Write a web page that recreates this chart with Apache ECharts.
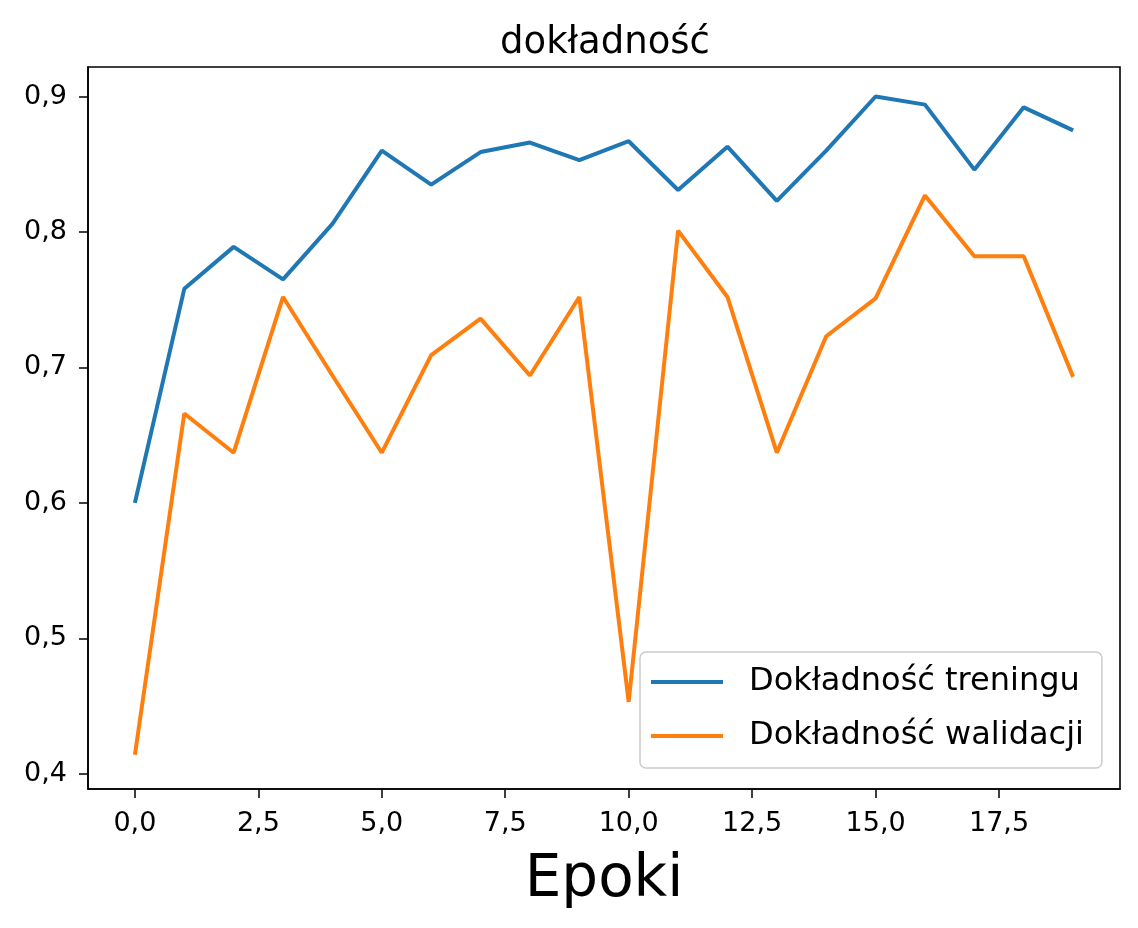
<!DOCTYPE html>
<html>
<head>
<meta charset="utf-8">
<script src="https://cdn.jsdelivr.net/npm/echarts@6/dist/echarts.min.js"></script>
<style>
  html, body { margin: 0; padding: 0; background: #fff; }
  #chart { width: 1138px; height: 928px; }
</style>
</head>
<body>
<div id="chart"></div>
<script>
// epoki
const epochs = [0, 1, 2, 3, 4, 5, 6, 7, 8, 9, 10, 11, 12, 13, 14, 15, 16, 17, 18, 19];
// dokładność treningu
const trainAcc = [0.600, 0.758, 0.789, 0.765, 0.806, 0.860, 0.835, 0.859, 0.866, 0.853,
                  0.867, 0.831, 0.863, 0.823, 0.860, 0.900, 0.894, 0.846, 0.892, 0.875];
// dokładność walidacji
const valAcc = [0.414, 0.666, 0.637, 0.752, 0.694, 0.637, 0.709, 0.736, 0.694, 0.752,
                0.453, 0.801, 0.752, 0.637, 0.723, 0.751, 0.827, 0.782, 0.782, 0.693];
const xTicks = [0, 2.5, 5, 7.5, 10, 12.5, 15, 17.5];
const yTicks = [0.4, 0.5, 0.6, 0.7, 0.8, 0.9];

const fmt = v => v.toFixed(1).replace('.', ',');
const font = 'DejaVu Sans';

const chart = echarts.init(document.getElementById('chart'), null, { renderer: 'canvas' });

chart.setOption({
  animation: false,
  backgroundColor: '#fff',
  textStyle: { fontFamily: font, color: '#000' },
  title: {
    text: 'dokładność',
    left: 600,
    textAlign: 'center',
    top: 20,
    textStyle: { fontFamily: font, fontSize: 37, fontWeight: 'normal', color: '#000' }
  },
  grid: {
    left: 88,
    top: 67,
    width: 1032,
    height: 722,
    show: true,
    borderColor: '#000',
    borderWidth: 1.6,
    backgroundColor: 'transparent',
    containLabel: false,
    outerBoundsMode: 'none'
  },
  legend: {
    orient: 'vertical',
    left: 640,
    top: 652,
    icon: 'rect',
    itemWidth: 72,
    itemHeight: 4,
    itemGap: 22,
    padding: [14, 18, 16, 11],
    backgroundColor: 'rgba(255,255,255,0.8)',
    borderColor: '#cccccc',
    borderWidth: 1.5,
    borderRadius: 6,
    textStyle: { fontFamily: font, fontSize: 32, color: '#000', padding: [0, 0, 0, 21] },
    data: ['Dokładność treningu', 'Dokładność walidacji']
  },
  xAxis: {
    type: 'value',
    min: -0.95,
    max: 19.95,
    name: 'Epoki',
    nameLocation: 'middle',
    nameGap: 63,
    nameTextStyle: { fontFamily: font, fontSize: 58, color: '#000' },
    axisLine: { show: true, onZero: false, lineStyle: { color: '#000', width: 1.6 } },
    axisTick: { show: true, length: 9, lineStyle: { color: '#000', width: 1.5 }, customValues: xTicks },
    axisLabel: { fontSize: 27, color: '#000', margin: 21, formatter: fmt, customValues: xTicks },
    splitLine: { show: false }
  },
  yAxis: {
    type: 'value',
    min: 0.3887,
    max: 0.9218,
    axisLine: { show: true, onZero: false, lineStyle: { color: '#000', width: 1.6 } },
    axisTick: { show: true, length: 9, lineStyle: { color: '#000', width: 1.5 }, customValues: yTicks },
    axisLabel: { fontSize: 27, color: '#000', margin: 21, formatter: fmt, customValues: yTicks },
    splitLine: { show: false }
  },
  series: [
    {
      name: 'Dokładność treningu',
      type: 'line',
      symbol: 'none',
      color: '#1f77b4',
      lineStyle: { width: 4, color: '#1f77b4' },
      data: epochs.map((e, i) => [e, trainAcc[i]])
    },
    {
      name: 'Dokładność walidacji',
      type: 'line',
      symbol: 'none',
      color: '#ff7f0e',
      lineStyle: { width: 4, color: '#ff7f0e' },
      data: epochs.map((e, i) => [e, valAcc[i]])
    }
  ]
});
</script>
</body>
</html>
